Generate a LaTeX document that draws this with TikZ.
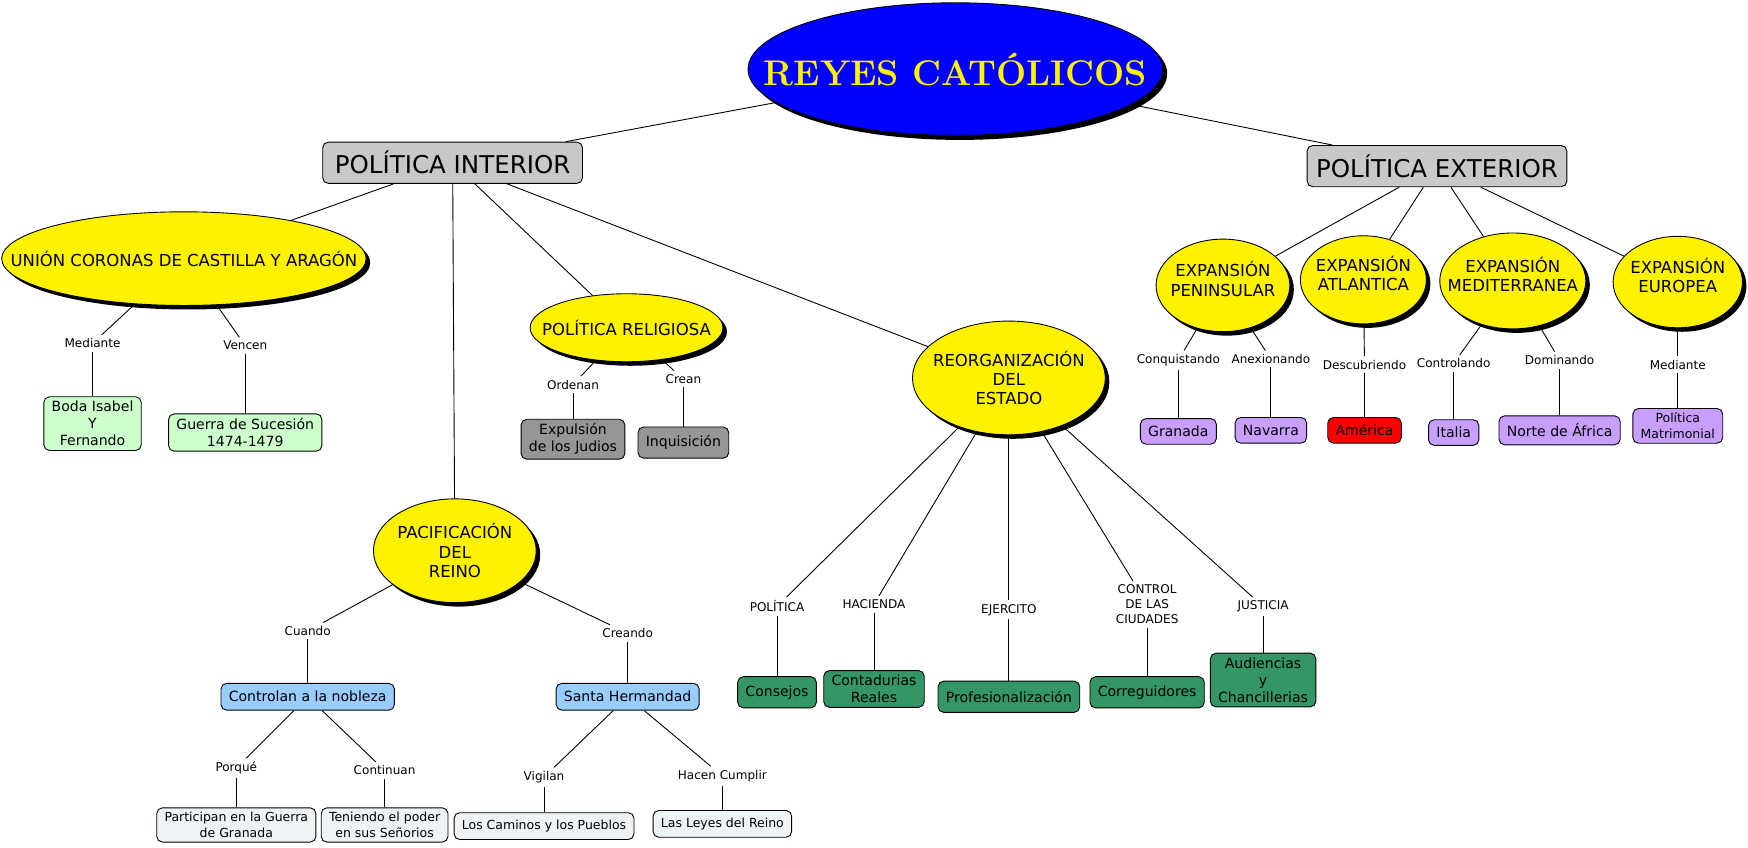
\documentclass[tikz,border=0pt]{standalone}
\usepackage{fontspec}
\usepackage{tikz}
\usetikzlibrary{shapes.geometric,shadows}
\newfontfamily\mapfont{DejaVu Sans}
\definecolor{titleblue}{RGB}{0,0,255}
\definecolor{topgray}{RGB}{200,200,200}
\definecolor{midgray}{RGB}{150,150,150}
\definecolor{mint}{RGB}{204,255,204}
\definecolor{skyblue}{RGB}{153,204,255}
\definecolor{paleblue}{RGB}{238,243,246}
\definecolor{seagreen}{RGB}{51,150,100}
\definecolor{lilac}{RGB}{200,158,255}
\definecolor{redbox}{RGB}{255,0,0}
\tikzset{
  mainidea/.style={ellipse, draw=black, fill=titleblue, text=yellow, inner sep=-40pt,
    minimum width=186pt, minimum height=59.5pt,
    font=\fontsize{16}{18}\selectfont\bfseries,
    drop shadow={shadow xshift=2pt, shadow yshift=-2pt, fill=black, opacity=1}},
  branch/.style={draw=black, fill=topgray, rounded corners=2.5pt, inner sep=0pt,
    minimum width=116.5pt, minimum height=18.5pt,
    font=\mapfont\fontsize{11}{13}\selectfont},
  idea/.style={ellipse, draw=black, fill=yellow, inner sep=-25pt, align=center,
    font=\mapfont\fontsize{7.4}{8.7}\selectfont,
    drop shadow={shadow xshift=1.8pt, shadow yshift=-1.8pt, fill=black, opacity=1}},
  outidea/.style={idea, text depth=6pt},
  link/.style={inner sep=1.5pt, align=center, font=\mapfont\fontsize{5.4}{6.7}\selectfont},
  leaf/.style={draw=black, rounded corners=2.5pt, inner xsep=3.5pt, inner ysep=2pt,
    minimum height=12pt, align=center, font=\mapfont\fontsize{6.3}{7.6}\selectfont},
  fact/.style={leaf, fill=mint},
  church/.style={leaf, fill=midgray, minimum height=14pt},
  peace/.style={leaf, fill=skyblue},
  detail/.style={leaf, fill=paleblue, font=\mapfont\fontsize{5.6}{7}\selectfont},
  state/.style={leaf, fill=seagreen, minimum height=14pt},
  place/.style={leaf, fill=lilac, minimum height=11.5pt},
}

\begin{document}
\begin{tikzpicture}[x=0.5pt, y=-0.5pt]
    \useasboundingbox (0,0) rectangle (1568,760);

    % Top of the map
    \node[mainidea] (reyes) at (857,62) {REYES CATÓLICOS};
    \node[branch] (interior) at (406,146) {POLÍTICA INTERIOR};
    \node[branch] (exterior) at (1289,149) {POLÍTICA EXTERIOR};

    % Politica interior
    \node[idea, minimum width=163.5pt, minimum height=42pt] (union) at (165,232) {UNIÓN CORONAS DE CASTILLA Y ARAGÓN};
    \node[idea, minimum width=86.5pt, minimum height=30.5pt] (religion) at (562,294) {POLÍTICA RELIGIOSA};
    \node[idea, minimum width=73pt, minimum height=46.5pt] (paz) at (408,494) {PACIFICACIÓN\\DEL\\REINO};
    \node[idea, minimum width=86.5pt, minimum height=51pt] (estado) at (905,339) {REORGANIZACIÓN\\DEL\\ESTADO};

    \node[link] (mediante) at (83,308) {Mediante};
    \node[link] (vencen) at (220,310) {Vencen};
    \node[fact] (boda) at (83,380) {Boda Isabel\\Y\\Fernando};
    \node[fact] (guerra) at (220,388) {Guerra de Sucesión\\1474-1479};

    \node[link] (ordenan) at (514,345) {Ordenan};
    \node[link] (crean) at (613,340) {Crean};
    \node[church] (judios) at (514,394) {Expulsión\\de los Judios};
    \node[church] (inquisicion) at (613,397) {Inquisición};

    \node[link] (cuando) at (276,566) {Cuando};
    \node[link] (creando) at (563,568) {Creando};
    \node[peace] (nobleza) at (276,625) {Controlan a la nobleza};
    \node[peace] (hermandad) at (563,625) {Santa Hermandad};
    \node[link] (porque) at (212,689) {Porqué};
    \node[link] (continuan) at (345,691) {Continuan};
    \node[link] (vigilan) at (488,697) {Vigilan};
    \node[link] (cumplir) at (648,696) {Hacen Cumplir};
    \node[detail] (granadaguerra) at (212,740) {Participan en la Guerra\\de Granada};
    \node[detail] (senorios) at (345,740) {Teniendo el poder\\en sus Señorios};
    \node[detail] (caminos) at (488,741) {Los Caminos y los Pueblos};
    \node[detail] (leyes) at (648,739) {Las Leyes del Reino};

    \node[link] (lpolitica) at (697,544) {POLÍTICA};
    \node[link] (lhacienda) at (784,542) {HACIENDA};
    \node[link] (lejercito) at (905,547) {EJERCITO};
    \node[link] (lciudades) at (1029,542) {CONTROL\\DE LAS\\CIUDADES};
    \node[link] (ljusticia) at (1133,544) {JUSTICIA};
    \node[state] (consejos) at (697,621) {Consejos};
    \node[state] (contadurias) at (784,618) {Contadurias\\Reales};
    \node[state] (profesional) at (905,625) {Profesionalización};
    \node[state] (corregidores) at (1029,621) {Correguidores};
    \node[state] (audiencias) at (1133,610) {Audiencias\\y\\Chancillerias};

    % Politica exterior
    \node[outidea, minimum width=60pt, minimum height=41.5pt] (peninsular) at (1097,256) {EXPANSIÓN\\PENINSULAR};
    \node[outidea, minimum width=56.5pt, minimum height=39.5pt] (atlantica) at (1223,251) {EXPANSIÓN\\ATLANTICA};
    \node[outidea, minimum width=65.5pt, minimum height=43pt] (mediterranea) at (1357,252) {EXPANSIÓN\\MEDITERRANEA};
    \node[outidea, minimum width=58pt, minimum height=41pt] (europea) at (1505,253) {EXPANSIÓN\\EUROPEA};

    \node[link] (conquistando) at (1057,323) {Conquistando};
    \node[link] (anexionando) at (1140,322) {Anexionando};
    \node[link] (descubriendo) at (1224,327) {Descubriendo};
    \node[link] (controlando) at (1304,326) {Controlando};
    \node[link] (dominando) at (1399,323) {Dominando};
    \node[link] (mediante2) at (1505,327) {Mediante};
    \node[place] (granada) at (1057,387) {Granada};
    \node[place] (navarra) at (1140,386) {Navarra};
    \node[place, fill=redbox] (america) at (1224,386) {América};
    \node[place] (italia) at (1304,388) {Italia};
    \node[place, minimum height=13pt] (africa) at (1399,386) {Norte de África};
    \node[place, font=\mapfont\fontsize{5.6}{7}\selectfont] (matrimonial) at (1505,382) {Política\\Matrimonial};

    % Connectors
    \foreach \a/\b in {reyes/interior, reyes/exterior,
        interior/union, interior/paz, interior/religion, interior/estado,
        union/mediante, mediante/boda, union/vencen, vencen/guerra,
        religion/ordenan, ordenan/judios, religion/crean, crean/inquisicion,
        paz/cuando, cuando/nobleza, paz/creando, creando/hermandad,
        nobleza/porque, porque/granadaguerra, nobleza/continuan, continuan/senorios,
        hermandad/vigilan, vigilan/caminos, hermandad/cumplir, cumplir/leyes,
        estado/lpolitica, lpolitica/consejos, estado/lhacienda, lhacienda/contadurias,
        estado/lejercito, lejercito/profesional, estado/lciudades, lciudades/corregidores,
        estado/ljusticia, ljusticia/audiencias,
        exterior/peninsular, exterior/atlantica, exterior/mediterranea, exterior/europea,
        peninsular/conquistando, conquistando/granada, peninsular/anexionando, anexionando/navarra,
        atlantica/descubriendo, descubriendo/america,
        mediterranea/controlando, controlando/italia, mediterranea/dominando, dominando/africa,
        europea/mediante2, mediante2/matrimonial} {
        \draw[black, line width=0.4pt] (\a) -- (\b);
    }

\end{tikzpicture}
\end{document}
